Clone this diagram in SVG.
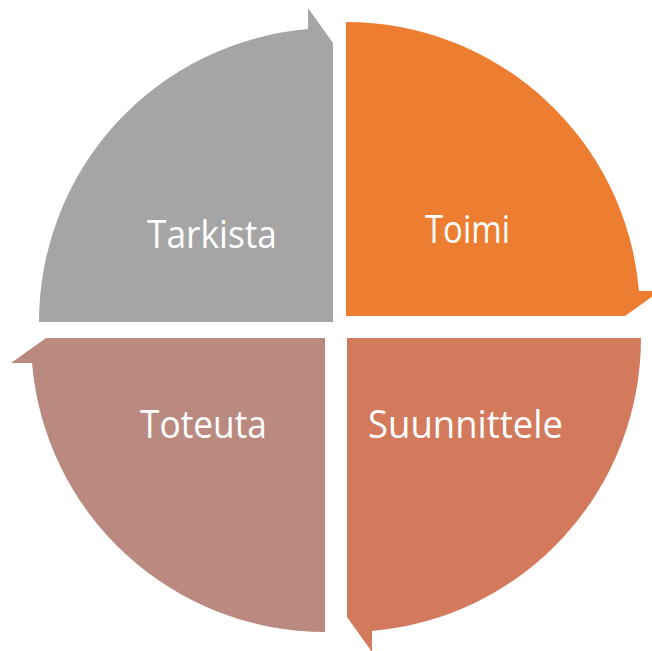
<svg xmlns="http://www.w3.org/2000/svg" width="652" height="651" viewBox="0 0 652 651">
<style>
.lbl{font-family:"Open Sans","Noto Sans","Liberation Sans",sans-serif;font-size:39px;fill:#FFFFFF;text-anchor:middle}
</style>
<rect width="652" height="651" fill="#FFFFFF"/>
<g id="tarkista">
<path d="M333,322 L39,322 A294,294 0 0 1 308,29 L308,8 L333,43 Z" fill="#A5A5A5"/>
<text class="lbl" x="212" y="248" textLength="130" lengthAdjust="spacingAndGlyphs">Tarkista</text>
</g>
<g id="toimi">
<path d="M346,316 L346,22 A294,294 0 0 1 639,291 L660,291 L625,316 Z" fill="#ED7D31"/>
<text class="lbl" x="467.5" y="243" textLength="85" lengthAdjust="spacingAndGlyphs">Toimi</text>
</g>
<g id="suunnittele">
<path d="M347,338 L641,338 A294,294 0 0 1 372,631 L372,652 L347,617 Z" fill="#D27A5B"/>
<text class="lbl" x="465.5" y="438" textLength="195" lengthAdjust="spacingAndGlyphs">Suunnittele</text>
</g>
<g id="toteuta">
<path d="M325,338 L325,632 A294,294 0 0 1 32,363 L11,363 L46,338 Z" fill="#BA8A80"/>
<text class="lbl" x="203.5" y="438" textLength="127" lengthAdjust="spacingAndGlyphs">Toteuta</text>
</g>
<g id="connectors"/>
</svg>
